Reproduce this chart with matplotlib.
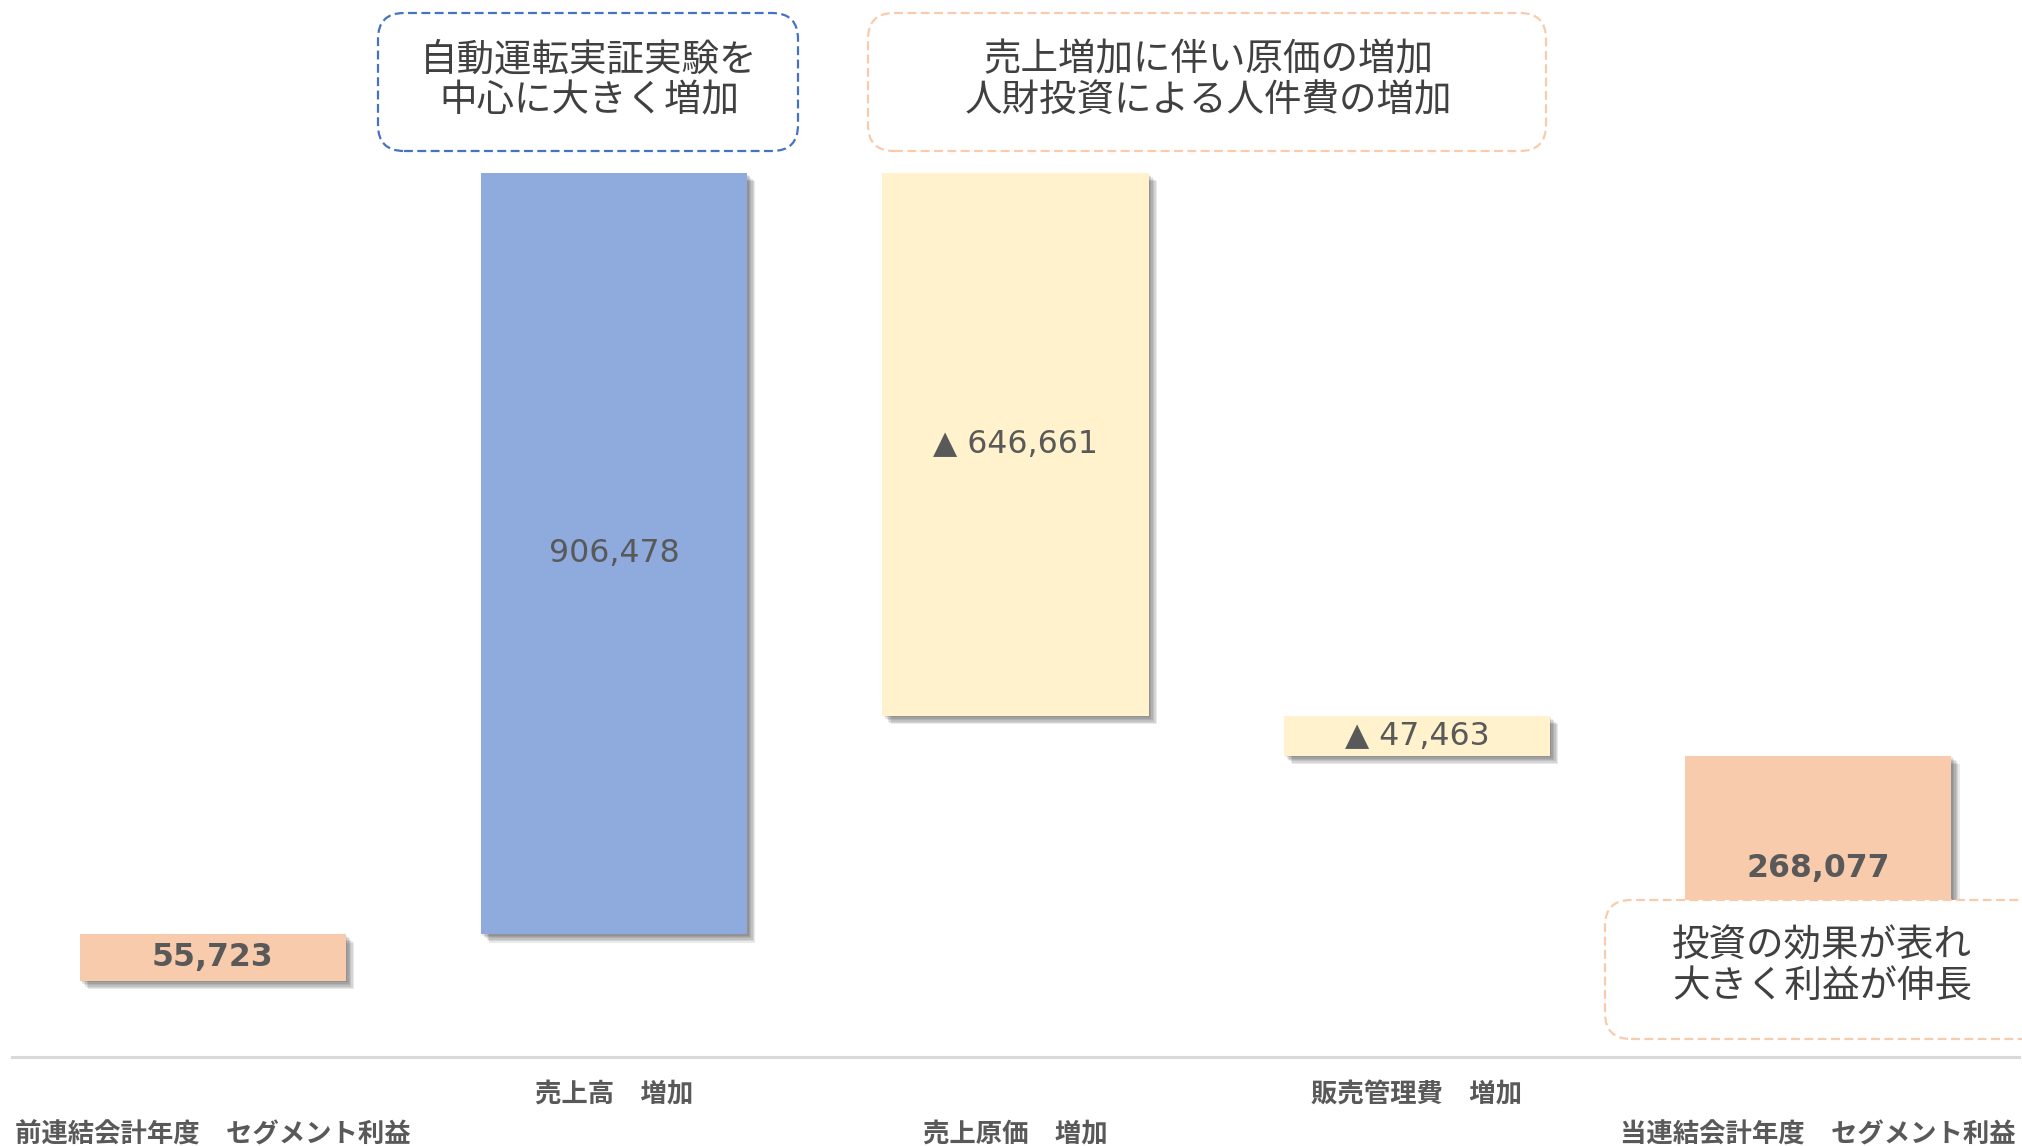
import matplotlib
matplotlib.use('Agg')
import matplotlib.pyplot as plt
import matplotlib.patheffects as pe
from matplotlib.patches import FancyBboxPatch

categories = [
    '前連結会計年度　セグメント利益',
    '売上高　増加',
    '売上原価　増加',
    '販売管理費　増加',
    '当連結会計年度　セグメント利益',
]
changes = [55723, 906478, -646661, -47463, 268077]
is_total = [True, False, False, False, True]
value_labels = ['55,723', '906,478', '▲ 646,661', '▲ 47,463', '268,077']
bold_value = [True, False, False, False, True]
bar_colors = ['#F8CBAD', '#8FAADC', '#FFF2CC', '#FFF2CC', '#F8CBAD']

notes = [
    '自動運転実証実験を\n中心に大きく増加',
    '売上増加に伴い原価の増加\n人財投資による人件費の増加',
    '投資の効果が表れ\n大きく利益が伸長',
]

JP = ['Noto Sans CJK JP', 'DejaVu Sans']
TEXT_GRAY = '#595959'
NOTE_GRAY = '#404040'

# waterfall: totals start at zero, changes float on the running total
bottoms, heights = [], []
running = 0
for v, total in zip(changes, is_total):
    if total:
        bottoms.append(0)
        heights.append(v)
        running = v
    else:
        bottoms.append(running + min(v, 0))
        heights.append(abs(v))
        running += v

fig = plt.figure(figsize=(20.22, 11.46), dpi=100)
ax = fig.add_axes([12 / 2022, 89 / 1146, 2007 / 2022, 1057 / 1146])

x = list(range(len(categories)))
# soft drop shadow built from a few stacked offset copies
shadow = [pe.SimplePatchShadow(offset=(o, -o), shadow_rgbFace='black', alpha=0.085)
          for o in (1, 2, 3, 4, 5, 6)] + [pe.Normal()]
bars = ax.bar(x, heights, bottom=bottoms, width=0.663, color=bar_colors, zorder=2)
for b in bars:
    b.set_path_effects(shadow)

for i, (b, h, lab) in enumerate(zip(bottoms, heights, value_labels)):
    ax.text(i, b + h / 2, lab, ha='center', va='center', fontsize=22.7,
            family='DejaVu Sans', color=TEXT_GRAY,
            fontweight='bold' if bold_value[i] else 'normal', zorder=3)

ax.set_xlim(-0.5, len(categories) - 0.5)
ax.set_ylim(-90500, 1168400)
ax.set_xticks([])
ax.set_yticks([])
for side in ('top', 'left', 'right'):
    ax.spines[side].set_visible(False)
ax.spines['bottom'].set_color('#D9D9D9')
ax.spines['bottom'].set_linewidth(2.2)

# category names alternate between two rows under the axis
for i, name in enumerate(categories):
    offset = 27 if i % 2 else 56
    ax.annotate(name, xy=(i, 0), xycoords=('data', 'axes fraction'),
                xytext=(0, -offset), textcoords='offset points',
                ha='center', va='center', fontsize=19, fontweight='bold',
                family=JP, color=TEXT_GRAY)

# dashed call-out boxes (inches from lower-left corner)
boxes = [
    (3.78, 9.95, 4.20, 1.38, '#4472C4'),
    (8.68, 9.95, 6.78, 1.38, '#F8CBAD'),
    (16.05, 1.07, 4.40, 1.39, '#F8CBAD'),
]
for (bx, by, bw, bh, edge), note in zip(boxes, notes):
    patch = FancyBboxPatch((bx, by), bw, bh,
                           boxstyle='round,pad=0,rounding_size=0.26',
                           transform=fig.dpi_scale_trans, facecolor='white',
                           edgecolor=edge, linewidth=1.6, linestyle=(0, (4, 2)),
                           clip_on=False, zorder=5)
    ax.add_patch(patch)

note_centers = [(5.89, 10.655), (12.08, 10.655), (18.22, 1.80)]
for (cx, cy), note in zip(note_centers, notes):
    ax.text(cx, cy, note, transform=fig.dpi_scale_trans, ha='center', va='center',
            fontsize=27, family=JP, color=NOTE_GRAY, linespacing=1.05,
            zorder=6, clip_on=False)

fig.savefig('out.png', dpi=100, facecolor='white')
